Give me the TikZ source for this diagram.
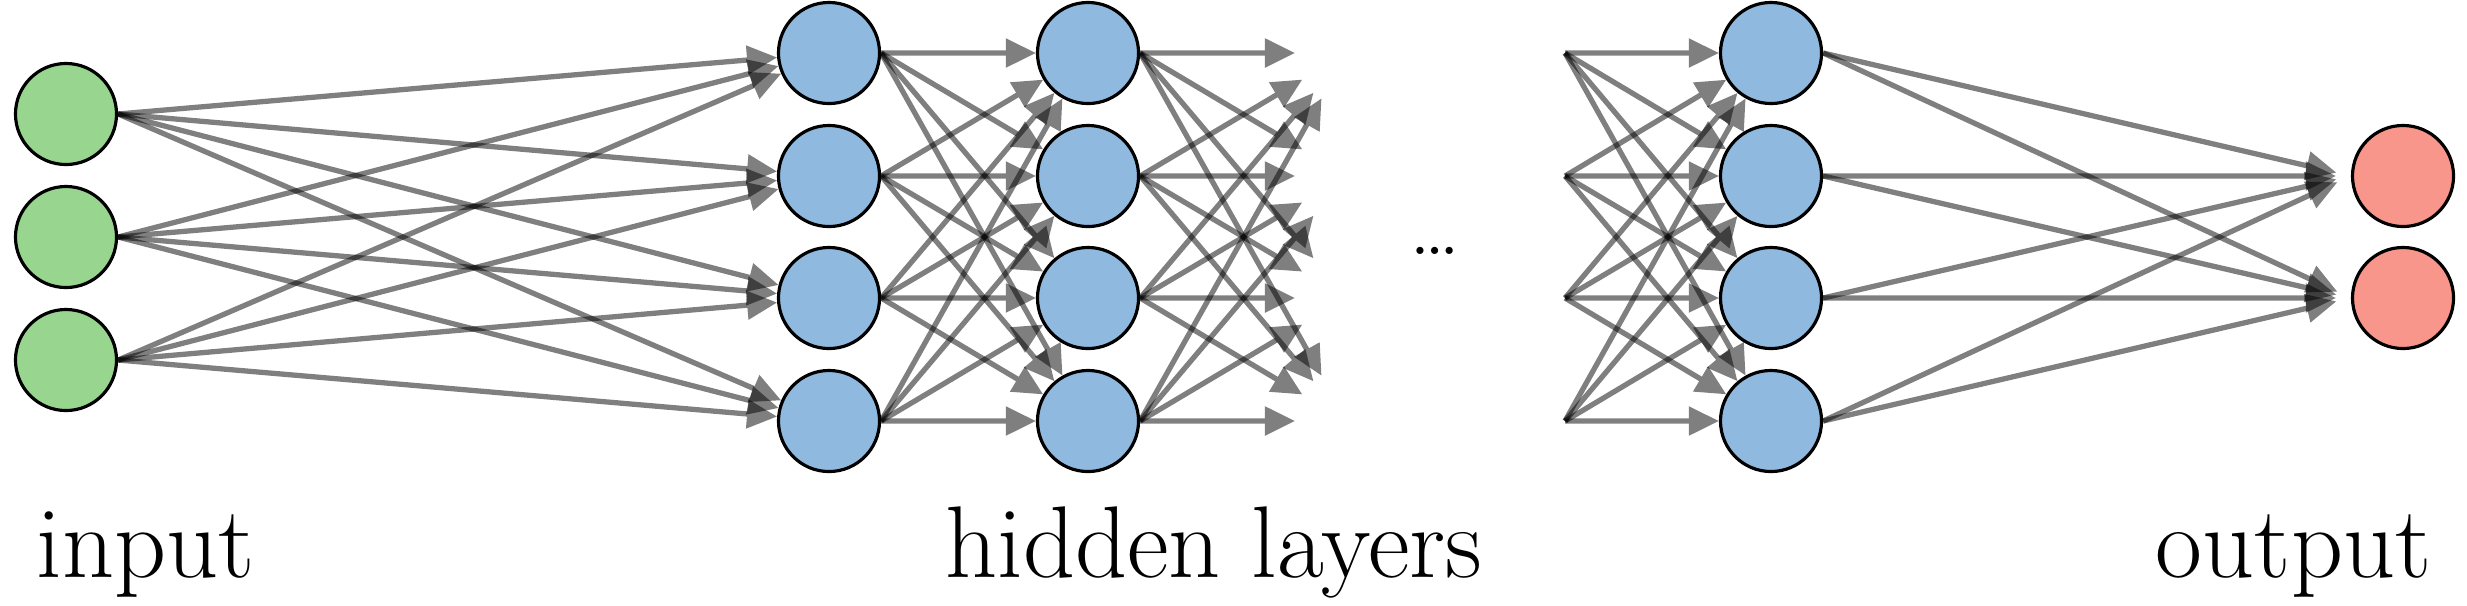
\documentclass[tikz,border=0pt]{standalone}
\usepackage{tikz}
\usetikzlibrary{arrows.meta,backgrounds}
\definecolor{ingreen}{RGB}{152,214,144}
\definecolor{hidblue}{RGB}{143,185,222}
\definecolor{outred}{RGB}{248,150,140}

\begin{document}
\begin{tikzpicture}[x=0.01cm,y=-0.01cm,
  neuron/.style={circle,draw=black,line width=0.9pt,minimum size=1.01cm,inner sep=0pt},
  link/.style={transparency group,opacity=0.5},
  conn/.style={line width=1.5pt,draw=black,-{Triangle[length=0.3cm,width=0.28cm]}},
  lbl/.style={font=\fontsize{29}{34}\selectfont,inner sep=0pt}]
\useasboundingbox (0,0) rectangle (2467,605);
% input layer
\foreach \i/\y in {1/114,2/237,3/360}
  \node[neuron,fill=ingreen] (in-\i) at (66,\y) {};
% hidden layers
\foreach \i/\y in {1/53,2/176,3/298,4/421}{
  \node[neuron,fill=hidblue] (h1-\i) at (829,\y) {};
  \node[neuron,fill=hidblue] (h2-\i) at (1088,\y) {};
  \node[neuron,fill=hidblue] (h3-\i) at (1771,\y) {};
  \coordinate (nx-\i) at (1347,\y);
  \coordinate (pv-\i) at (1565,\y);
}
% output layer
\foreach \i/\y in {1/176,2/298}
  \node[neuron,fill=outred] (out-\i) at (2403,\y) {};

% connections
\begin{scope}[on background layer]
\foreach \i in {1,2,3}
  \foreach \j in {1,...,4}{
    \begin{scope}[link]\draw[conn] (in-\i.east) -- (h1-\j);\end{scope}
  }
\foreach \i in {1,...,4}
  \foreach \j in {1,...,4}{
    \begin{scope}[link]\draw[conn] (h1-\i.east) -- (h2-\j);\end{scope}
    \begin{scope}[link]\draw[conn,shorten >=0.52cm] (h2-\i.east) -- (nx-\j);\end{scope}
    \begin{scope}[link]\draw[conn] (pv-\i) -- (h3-\j);\end{scope}
  }
\foreach \i in {1,...,4}
  \foreach \j in {1,2}{
    \begin{scope}[link]\draw[conn,shorten >=0.15cm] (h3-\i.east) -- (out-\j.west);\end{scope}
  }
\end{scope}

\node[font=\Huge,inner sep=0pt,anchor=base] (dots) at (1435,254) {\ldots};
\node[lbl,anchor=base west] (lbl-in) at (36,577) {input};
\node[lbl,anchor=base] (lbl-hid) at (1214,577) {hidden layers};
\node[lbl,anchor=base east] (lbl-out) at (2432,577) {output};
\end{tikzpicture}
\end{document}
